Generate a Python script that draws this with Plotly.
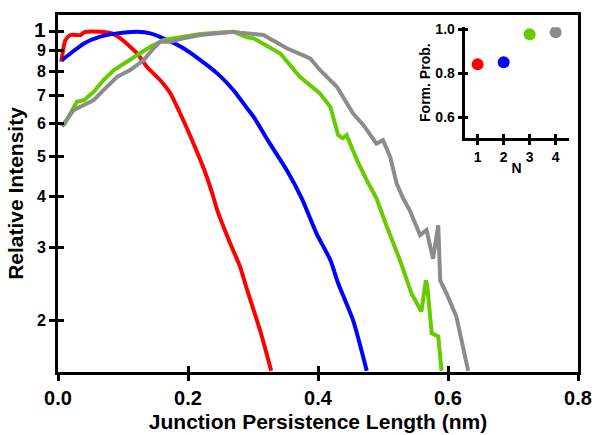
import plotly.graph_objects as go
import math

# ---------------- data ----------------
red_x = [0.005, 0.0115, 0.019, 0.035, 0.04, 0.065, 0.083, 0.096, 0.111, 0.122, 0.137, 0.157,
         0.173, 0.188, 0.204, 0.219, 0.229, 0.239, 0.245, 0.265, 0.280, 0.291, 0.311, 0.328]
red_y = [0.846, 0.955, 0.982, 0.982, 0.997, 1.0, 0.991, 0.964, 0.920, 0.886, 0.822, 0.764,
         0.709, 0.634, 0.557, 0.489, 0.445, 0.398, 0.370, 0.307, 0.270, 0.237, 0.189, 0.151]

blue_x = [0.006, 0.019, 0.040, 0.065, 0.091, 0.122, 0.142, 0.168, 0.193, 0.219, 0.245, 0.270,
          0.293, 0.301, 0.326, 0.352, 0.375, 0.398, 0.419, 0.431, 0.454, 0.475]
blue_y = [0.854, 0.886, 0.937, 0.973, 0.991, 1.0, 0.991, 0.955, 0.912, 0.854, 0.793, 0.722,
          0.646, 0.622, 0.536, 0.462, 0.395, 0.324, 0.280, 0.246, 0.200, 0.151]

green_x = [0.009, 0.019, 0.029, 0.040, 0.055, 0.070, 0.086, 0.106, 0.127, 0.142, 0.163, 0.193,
           0.219, 0.245, 0.270, 0.291, 0.301, 0.342, 0.372, 0.403, 0.419, 0.431, 0.438, 0.444,
           0.460, 0.475, 0.490, 0.506, 0.526, 0.544, 0.559, 0.566, 0.568, 0.575, 0.585, 0.590]
green_y = [0.594, 0.634, 0.677, 0.683, 0.716, 0.764, 0.808, 0.846, 0.886, 0.920, 0.955, 0.973,
           0.987, 0.995, 1.0, 0.970, 0.964, 0.886, 0.778, 0.709, 0.658, 0.562, 0.552, 0.562,
           0.489, 0.437, 0.395, 0.337, 0.280, 0.232, 0.210, 0.250, 0.243, 0.186, 0.183, 0.151]

gray_x = [0.006, 0.024, 0.040, 0.055, 0.070, 0.091, 0.111, 0.132, 0.147, 0.157, 0.173, 0.193,
          0.219, 0.245, 0.270, 0.280, 0.316, 0.352, 0.388, 0.403, 0.429, 0.454, 0.470, 0.490,
          0.500, 0.511, 0.521, 0.531, 0.541, 0.557, 0.567, 0.577, 0.585, 0.588, 0.598, 0.613,
          0.623, 0.631]
gray_y = [0.589, 0.646, 0.665, 0.683, 0.722, 0.778, 0.808, 0.854, 0.912, 0.946, 0.946, 0.964,
          0.982, 0.991, 1.0, 0.995, 0.982, 0.912, 0.862, 0.808, 0.736, 0.634, 0.594, 0.536,
          0.546, 0.498, 0.429, 0.395, 0.370, 0.322, 0.331, 0.282, 0.340, 0.250, 0.232, 0.204,
          0.172, 0.151]

inset_n = [1, 2, 3, 4]
inset_prob = [0.84, 0.85, 0.977, 0.986]

colors = ["#ff0000", "#0000ff", "#66cc00", "#8c8c8c"]

x_ticks = [0.0, 0.2, 0.4, 0.6, 0.8]
x_ticktext = ["0.0", "0.2", "0.4", "0.6", "0.8"]
y_ticks = [0.2, 0.3, 0.4, 0.5, 0.6, 0.7, 0.8, 0.9, 1.0]
y_ticktext = ["2", "3", "4", "5", "6", "7", "8", "9", "<span style='font-size:21px'>1</span>"]
inset_yticks = [0.6, 0.8, 1.0]
inset_yticktext = ["0.6", "0.8", "1.0"]

# ---------------- figure ----------------
FONT = "Liberation Sans, Arial, sans-serif"
fig = go.Figure()

for xs, ys, c, shape in [(red_x, red_y, colors[0], "spline"), (blue_x, blue_y, colors[1], "spline"),
                         (green_x, green_y, colors[2], "linear"), (gray_x, gray_y, colors[3], "linear")]:
    line = dict(color=c, width=4, shape=shape)
    if shape == "spline":
        line["smoothing"] = 0.6
    fig.add_trace(go.Scatter(x=xs, y=ys, mode="lines", line=line, showlegend=False,
                             hoverinfo="skip", xaxis="x", yaxis="y"))

# dummy trace for overlay tick axes (inside ticks)
fig.add_trace(go.Scatter(x=[None], y=[None], xaxis="x3", yaxis="y3",
                         showlegend=False, hoverinfo="skip"))

# inset
fig.add_trace(go.Scatter(x=inset_n, y=inset_prob, mode="markers",
                         marker=dict(color=colors, size=12),
                         showlegend=False, hoverinfo="skip", xaxis="x2", yaxis="y2"))
fig.add_trace(go.Scatter(x=[None], y=[None], xaxis="x4", yaxis="y4",
                         showlegend=False, hoverinfo="skip"))

yr = [math.log10(0.15), math.log10(1.098)]
ixd = [0.782, 0.982]
iyd = [0.655, 0.966]

fig.update_layout(
    width=597, height=435,
    margin=dict(l=58, r=19, t=15, b=63),
    paper_bgcolor="white", plot_bgcolor="white",
    font=dict(family=FONT, color="black"),
    xaxis=dict(range=[0, 0.8], tickvals=x_ticks, ticktext=x_ticktext, automargin=False,
               ticks="outside", ticklen=6, tickwidth=3, tickcolor="black",
               showline=True, linewidth=3, linecolor="black", mirror=True,
               showgrid=False, zeroline=False,
               tickfont=dict(size=20, family=FONT, weight="bold"),
               title=dict(text="<b>Junction Persistence Length (nm)</b>",
                          font=dict(size=21, family=FONT), standoff=7)),
    yaxis=dict(type="log", range=yr, tickvals=y_ticks, ticktext=y_ticktext, automargin=False,
               ticks="outside", ticklen=6, tickwidth=3, tickcolor="black",
               showline=True, linewidth=3, linecolor="black", mirror=True,
               showgrid=False, zeroline=False,
               tickfont=dict(size=16, family=FONT, weight="bold"),
               title=dict(text="<b>Relative Intensity</b>",
                          font=dict(size=21, family=FONT), standoff=5)),
    xaxis3=dict(overlaying="x", anchor="y3", range=[0, 0.8], tickvals=x_ticks, automargin=False,
                ticks="inside", ticklen=6, tickwidth=3, tickcolor="black",
                showticklabels=False, showline=False, showgrid=False, zeroline=False),
    yaxis3=dict(overlaying="y", anchor="x3", type="log", range=yr, tickvals=y_ticks, automargin=False,
                ticks="inside", ticklen=6, tickwidth=3, tickcolor="black",
                showticklabels=False, showline=False, showgrid=False, zeroline=False),
    xaxis2=dict(domain=ixd, anchor="y2", range=[0.5, 4.5], automargin=False,
                tickvals=inset_n, ticktext=[str(n) for n in inset_n],
                ticks="outside", ticklen=4, tickwidth=3, tickcolor="black",
                showline=True, linewidth=3, linecolor="black",
                showgrid=False, zeroline=False,
                tickfont=dict(size=14, family=FONT, weight="bold"),
                title=dict(text="<b>N</b>", font=dict(size=14, family=FONT), standoff=0)),
    yaxis2=dict(domain=iyd, anchor="x2", range=[0.505, 1.009], automargin=False,
                tickvals=inset_yticks, ticktext=inset_yticktext,
                ticks="outside", ticklen=4, tickwidth=3, tickcolor="black",
                showline=True, linewidth=3, linecolor="black",
                showgrid=False, zeroline=False,
                tickfont=dict(size=14, family=FONT, weight="bold"),
                title=dict(text="<b>Form. Prob.</b>", font=dict(size=14, family=FONT), standoff=2)),
    xaxis4=dict(domain=ixd, anchor="y4", overlaying="x2", range=[0.5, 4.5], automargin=False,
                tickvals=inset_n, ticks="inside", ticklen=4, tickwidth=3, tickcolor="black",
                showticklabels=False, showline=False, showgrid=False, zeroline=False),
    yaxis4=dict(domain=iyd, anchor="x4", overlaying="y2", range=[0.505, 1.009], automargin=False,
                tickvals=inset_yticks, ticks="inside", ticklen=3, tickwidth=3, tickcolor="black",
                showticklabels=False, showline=False, showgrid=False, zeroline=False),
)

fig.write_html("out.html")
